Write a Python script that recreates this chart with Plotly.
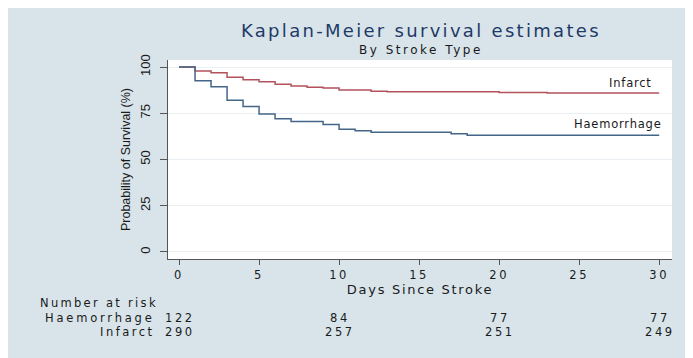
import plotly.graph_objects as go

# ---- data ----
infarct_days = [0, 1, 2, 3, 4, 5, 6, 7, 8, 9, 10, 12, 13, 20, 23, 30]
infarct_surv = [100, 97.9, 96.9, 94.5, 93.1, 92.1, 90.7, 89.7, 89.0, 88.6, 87.6, 86.9, 86.6, 86.2, 85.9, 85.9]

haem_days = [0, 1, 2, 3, 4, 5, 6, 7, 9, 10, 11, 12, 17, 18, 30]
haem_surv = [100, 92.6, 89.3, 82.0, 78.7, 74.6, 72.1, 70.5, 68.9, 66.4, 65.6, 64.8, 63.9, 63.1, 63.1]

risk_days = [0, 10, 20, 30]
risk_haem = [122, 84, 77, 77]
risk_infarct = [290, 257, 251, 249]

x_ticks = [0, 5, 10, 15, 20, 25, 30]
y_ticks = [0, 25, 50, 75, 100]

# ---- style ----
BG = "#d8e4ea"
BLUE = "#436688"
RED = "#b4525c"
TXT = "#1a1a1a"
HFONT = "DejaVu Sans"
VFONT = "Liberation Sans"

# page has an 8px body margin; figure is placed at (8, 8)
OX, OY = 8, 8
W, H = 685, 350
# plot area in page pixels: x 168..672, y 60..259
L, R, T, B = 168 - OX, W - (672 - OX), 60 - OY, H - (259 - OY)
pw, ph = W - L - R, H - T - B


def px_x(p):
    return (p - OX - L) / pw


def px_y(p):
    return (H - B - (p - OY)) / ph


def wide(text, sp):
    # the reference text is drawn horizontally stretched; widen with letter spacing
    return f'<span style="letter-spacing:{sp}px">{text}</span>'


fig = go.Figure()
fig.add_trace(go.Scatter(x=infarct_days, y=infarct_surv, mode="lines",
                         line=dict(color=RED, width=1.5, shape="hv"),
                         name="Infarct", showlegend=False, hoverinfo="skip"))
fig.add_trace(go.Scatter(x=haem_days, y=haem_surv, mode="lines",
                         line=dict(color=BLUE, width=1.5, shape="hv"),
                         name="Haemorrhage", showlegend=False, hoverinfo="skip"))

ann = []
# titles
ann.append(dict(text=wide("Kaplan-Meier survival estimates", 2.3), xref="paper", yref="paper",
                x=px_x(421), y=px_y(31), xanchor="center", yanchor="middle", showarrow=False,
                font=dict(family=HFONT, size=18, color="#1f3a66")))
ann.append(dict(text=wide("By Stroke Type", 2.5), xref="paper", yref="paper",
                x=px_x(421), y=px_y(50), xanchor="center", yanchor="middle", showarrow=False,
                font=dict(family=HFONT, size=12, color=TXT)))
# line labels
ann.append(dict(text=wide("Infarct", 0.8), xref="x", yref="y", x=29.7, y=91.4, xanchor="right",
                yanchor="middle", showarrow=False, font=dict(family=HFONT, size=11.5, color=TXT)))
ann.append(dict(text=wide("Haemorrhage", 0.8), xref="x", yref="y", x=30.3, y=69.2, xanchor="right",
                yanchor="middle", showarrow=False, font=dict(family=HFONT, size=11.5, color=TXT)))
# risk table
RS = 11.5
ann.append(dict(text=wide("Number at risk", 2.3), xref="paper", yref="paper", x=px_x(38), y=px_y(303),
                xanchor="left", yanchor="middle", showarrow=False,
                font=dict(family=HFONT, size=RS, color=TXT)))
for label, vals, py in [("Haemorrhage", risk_haem, 317.5), ("Infarct", risk_infarct, 332)]:
    ann.append(dict(text=wide(label, 2.8 if label == "Haemorrhage" else 2.5), xref="paper", yref="paper",
                    x=px_x(157), y=px_y(py),
                    xanchor="right", yanchor="middle", showarrow=False,
                    font=dict(family=HFONT, size=RS, color=TXT)))
    for d, v in zip(risk_days, vals):
        ann.append(dict(text=wide(str(v), 2.6), xref="x", yref="paper", x=d + 0.08, y=px_y(py),
                        xanchor="center", yanchor="middle", showarrow=False,
                        font=dict(family=HFONT, size=RS, color=TXT)))

fig.update_layout(
    width=W, height=H,
    margin=dict(l=L, r=R, t=T, b=B, pad=0),
    paper_bgcolor=BG, plot_bgcolor="white",
    annotations=ann,
    showlegend=False,
)
fig.update_xaxes(range=[-0.69, 30.8], tickvals=x_ticks, ticktext=[wide(str(t), 2.6) for t in x_ticks],
                 showgrid=False, zeroline=False, showline=True, linecolor="#555555", linewidth=1,
                 ticks="outside", ticklen=5, tickcolor="#555555",
                 tickfont=dict(family=HFONT, size=11.5, color=TXT),
                 title=dict(text=wide("Days Since Stroke", 1.7), standoff=1,
                            font=dict(family=HFONT, size=13, color=TXT)))
fig.update_yaxes(range=[-3.8, 103.8], tickvals=y_ticks, ticktext=[str(t) for t in y_ticks],
                 showgrid=True, gridcolor="#e9eff2", gridwidth=1, zeroline=False,
                 showline=True, linecolor="#555555", linewidth=1,
                 ticks="outside", ticklen=7, tickcolor="#555555", tickangle=-90,
                 ticklabelstandoff=5,
                 tickfont=dict(family=VFONT, size=13, color=TXT),
                 title=dict(text="Probability of Survival (%)", standoff=4,
                            font=dict(family=VFONT, size=12.5, color=TXT)))

fig.write_html("out.html")
